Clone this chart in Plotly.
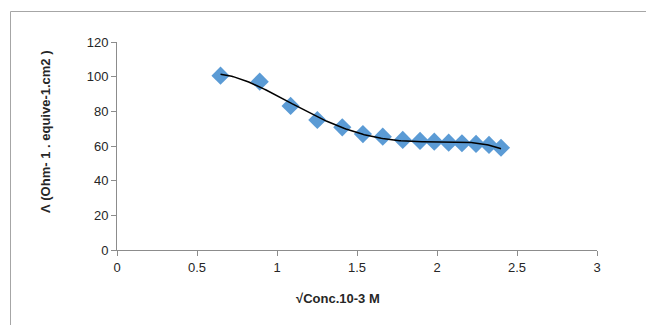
import numpy as np
import plotly.graph_objects as go

# Data
sqrt_conc = [0.647, 0.892, 1.085, 1.252, 1.408, 1.537, 1.661, 1.786, 1.894, 1.983, 2.073, 2.156, 2.244, 2.325, 2.40]
molar_cond = [100.6, 97.1, 83.1, 75.0, 70.8, 66.9, 65.4, 63.5, 62.9, 62.5, 61.9, 61.6, 61.2, 60.6, 59.0]
x_ticks = [0, 0.5, 1, 1.5, 2, 2.5, 3]
y_ticks = [0, 20, 40, 60, 80, 100, 120]

# Polynomial trendline (as in a spreadsheet chart)
coef = np.polyfit(sqrt_conc, molar_cond, 4)
xt = np.linspace(min(sqrt_conc), max(sqrt_conc), 200)
yt = np.polyval(coef, xt)

OFF = 8  # page body margin
W, H = 654 - OFF, 325 - OFF
L, T = 117 - OFF, 42 - OFF
R = W - (597 - OFF)
B = H - (250 - OFF)

fig = go.Figure()
fig.add_trace(go.Scatter(
    x=sqrt_conc, y=molar_cond, mode="markers",
    marker=dict(symbol="diamond", size=14, color="#5B9BD5", line=dict(width=0)),
    showlegend=False, hoverinfo="x+y"))
fig.add_trace(go.Scatter(
    x=xt, y=yt, mode="lines", line=dict(color="black", width=1.5),
    showlegend=False, hoverinfo="skip"))

font = dict(family="Liberation Sans, Arial, sans-serif", size=13, color="#262626")
axis_common = dict(
    showgrid=False, zeroline=False, showline=True, linecolor="#8C8C8C", linewidth=1,
    ticks="outside", ticklen=5, tickcolor="#8C8C8C", tickwidth=1,
    tickfont=font, fixedrange=True)

fig.update_layout(
    width=W, height=H, autosize=False,
    margin=dict(l=L, r=R, t=T, b=B),
    paper_bgcolor="white", plot_bgcolor="white",
    xaxis=dict(range=[0, 3], tickvals=x_ticks, ticktext=[str(v) for v in x_ticks], **axis_common),
    yaxis=dict(range=[0, 120], tickvals=y_ticks, ticktext=[str(v) for v in y_ticks], **axis_common),
    font=font,
)

pw, ph = W - L - R, H - T - B
def px(x):
    return (x - OFF - L) / pw
def py(y):
    return (H - B - (y - OFF)) / ph

# chart border
fig.add_shape(type="rect", xref="paper", yref="paper",
              x0=px(10.5), x1=px(653.5), y0=py(340), y1=py(11.5),
              line=dict(color="#A6A6A6", width=1), fillcolor="rgba(0,0,0,0)", layer="below")

title_font = dict(family="Liberation Sans, Arial, sans-serif", size=13, color="#262626")
fig.add_annotation(text="<b>Λ (Ohm- 1 . equive-1.cm2 )</b>", xref="paper", yref="paper",
                   x=px(45), y=py(132), textangle=-90, showarrow=False,
                   xanchor="center", yanchor="middle", font=title_font)
fig.add_annotation(text="<b>√Conc.10-3 M</b>", xref="paper", yref="paper",
                   x=px(338), y=py(298), showarrow=False,
                   xanchor="center", yanchor="middle", font=title_font)

fig.write_html("out.html")
